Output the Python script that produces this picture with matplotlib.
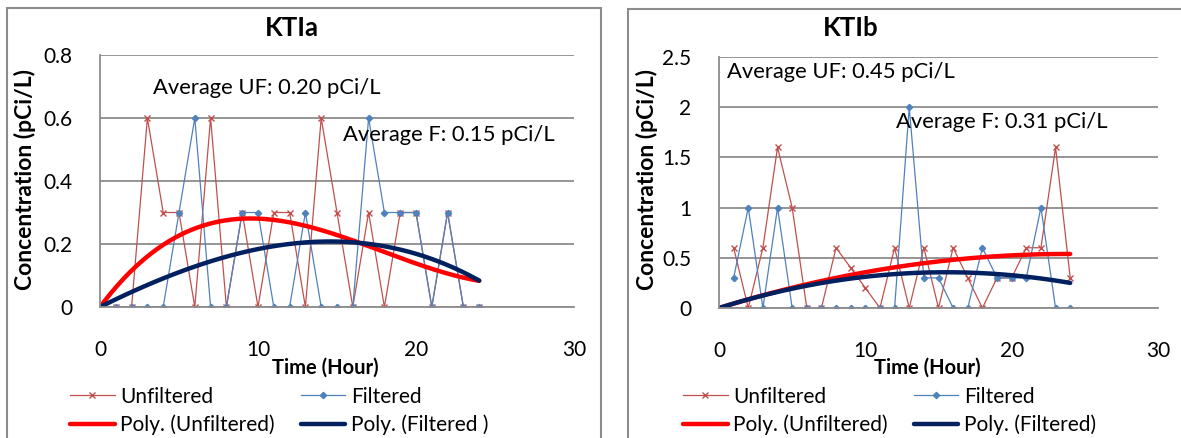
import numpy as np
import matplotlib
matplotlib.use('Agg')
import matplotlib.pyplot as plt
from matplotlib.patches import Rectangle

plt.rcParams['font.family'] = ['Lato', 'DejaVu Sans']
plt.rcParams['font.size'] = 15

hours = list(range(1, 25))

# KTIa
kta_unf = [0, 0, 0.6, 0.3, 0.3, 0, 0.6, 0, 0.3, 0, 0.3, 0.3,
           0, 0.6, 0.3, 0, 0.3, 0, 0.3, 0.3, 0, 0.3, 0, 0]
kta_filt = [0, 0, 0, 0, 0.3, 0.6, 0, 0, 0.3, 0.3, 0, 0,
            0.3, 0, 0, 0, 0.6, 0.3, 0.3, 0.3, 0, 0.3, 0, 0]
# KTIb
ktb_unf = [0.6, 0, 0.6, 1.6, 1.0, 0, 0, 0.6, 0.4, 0.2, 0, 0.6,
           0, 0.6, 0, 0.6, 0.3, 0, 0.3, 0.3, 0.6, 0.6, 1.6, 0.3]
ktb_filt = [0.3, 1.0, 0, 1.0, 0, 0, 0, 0, 0, 0, 0, 0,
            2.0, 0.3, 0.3, 0, 0, 0.6, 0.3, 0.3, 0.3, 1.0, 0, 0]

avg_text = [('Average UF: 0.20 pCi/L', 'Average F: 0.15 pCi/L'),
            ('Average UF: 0.45 pCi/L', 'Average F: 0.31 pCi/L')]
titles = ['KTIa', 'KTIb']
poly_labels = [('Poly. (Unfiltered)', 'Poly. (Filtered )'),
               ('Poly. (Unfiltered)', 'Poly. (Filtered)')]
poly_order = [3, 2]   # trend line order of each chart

c_unf, c_filt = '#C0504D', '#4F81BD'
c_punf, c_pfilt = '#FF0000', '#002060'
grey = '#8C8C8C'


def trend(x, y, order):
    # polynomial trend line through the origin (intercept = 0)
    x = np.asarray(x, float)
    A = np.column_stack([x**k for k in range(1, order + 1)])
    coef = np.linalg.lstsq(A, np.asarray(y, float), rcond=None)[0]
    xs = np.linspace(0, x.max(), 200)
    return xs, sum(c * xs**(k + 1) for k, c in enumerate(coef))


fig = plt.figure(figsize=(11.81, 4.38), dpi=100)
W, H = 1181, 438

# chart frames
fig.patches.append(Rectangle((7/W, -0.1), (601-7)/W, 1.1 - 8/H, transform=fig.transFigure,
                             fill=False, ec=grey, lw=1.5))
fig.patches.append(Rectangle((628/W, -0.1), 0.5, 1.1 - 9/H, transform=fig.transFigure,
                             fill=False, ec=grey, lw=1.5))

boxes = [(100, 574, 55, 307), (719, 1158, 57, 308)]
ylims = [(0, 0.8, 0.2), (0, 2.5, 0.5)]
ylab_x = [25, 647]
title_x = [292, 851]
xlab_x = [325, 927]
leg_x = [70, 683]
text_pos = [((3.35, 0.695), (15.4, 0.546)), ((0.55, 2.35), (12.1, 1.85))]
data = [(kta_unf, kta_filt), (ktb_unf, ktb_filt)]

for i in range(2):
    l, r, t, b = boxes[i]
    ax = fig.add_axes([l/W, 1 - b/H, (r - l)/W, (b - t)/H])
    unf, filt = data[i]
    h1, = ax.plot(hours, unf, color=c_unf, lw=0.9, marker='x', ms=5, mew=1)
    h2, = ax.plot(hours, filt, color=c_filt, lw=0.9, marker='D', ms=3.2)
    xs, ys = trend(hours, unf, poly_order[i])
    h3, = ax.plot(xs, ys, color=c_punf, lw=3.2, solid_capstyle='round')
    xs, ys = trend(hours, filt, poly_order[i])
    h4, = ax.plot(xs, ys, color=c_pfilt, lw=3.2, solid_capstyle='round')

    y0, y1, dy = ylims[i]
    ax.set_xlim(0, 30)
    ax.set_ylim(y0, y1)
    ax.set_xticks([0, 10, 20, 30])
    yt = np.arange(y0, y1 + dy/2, dy)
    ax.set_yticks(yt)
    ax.set_yticklabels(['0'] + ['%g' % v for v in yt[1:]])
    ax.tick_params(length=0, labelsize=15)
    ax.tick_params(axis='x', pad=24)
    ax.tick_params(axis='y', pad=20)
    ax.grid(axis='y', color=grey, lw=1.3)
    ax.set_axisbelow(True)
    for s in ['top', 'right']:
        ax.spines[s].set_visible(False)
    for s in ['left', 'bottom']:
        ax.spines[s].set_color(grey)
        ax.spines[s].set_linewidth(1.3)

    (ux, uy), (fx, fy) = text_pos[i]
    ax.text(ux, uy, avg_text[i][0], va='center', ha='left', fontsize=15.8)
    ax.text(fx, fy, avg_text[i][1], va='center', ha='left', fontsize=15.8)

    fig.text(title_x[i]/W, 1 - 28/H, titles[i], ha='center', va='center',
             fontsize=18.5, fontweight='bold')
    fig.text(xlab_x[i]/W, 1 - 368/H, 'Time (Hour)', ha='center', va='center',
             fontsize=14.5, fontweight='bold')
    fig.text(ylab_x[i]/W, 1 - 179/H, 'Concentration (pCi/L)', ha='center',
             va='center', rotation=90, fontsize=16.5, fontweight='bold')

    fig.legend([h1, h3, h2, h4],
               ['Unfiltered', poly_labels[i][0], 'Filtered', poly_labels[i][1]],
               ncol=2, loc='center left', bbox_to_anchor=(leg_x[i]/W, 1 - 411/H),
               frameon=False, borderpad=0, borderaxespad=0, handlelength=2.15,
               handletextpad=0.25, columnspacing=1.25, labelspacing=0.4,
               fontsize=15)

fig.savefig('out.png', dpi=100)
